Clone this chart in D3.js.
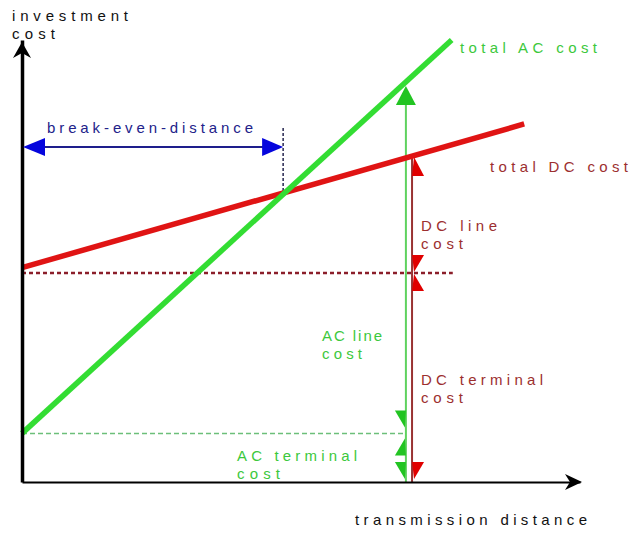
<!DOCTYPE html>
<html>
<head>
<meta charset="utf-8">
<script src="https://cdn.jsdelivr.net/npm/d3@7"></script>
<style>
  html, body { margin: 0; padding: 0; background: #ffffff; }
  svg { display: block; font-family: "Liberation Sans", Arial, sans-serif; }
</style>
</head>
<body>
<svg id="chart" width="632" height="534"></svg>
<script>
// ---- data (conceptual units: distance 0..100, cost 0..100) ----
const acDistance = [0, 77];        // total AC cost line endpoints (distance)
const acCost = [11, 100];          // total AC cost line endpoints (cost)
const dcDistance = [0, 90];        // total DC cost line endpoints (distance)
const dcCost = [48.5, 81];         // total DC cost line endpoints (cost)
const acTerminalCost = 11;         // AC terminal cost level
const dcTerminalCost = 47.3;       // DC terminal cost level
const acTerminalEnd = 68.5;        // end of AC terminal guide
const dcTerminalEnd = 77.2;        // end of DC terminal guide
const breakEvenDistance = 46.8;    // break-even distance
const breakEvenArrowCost = 75.8;   // level of break-even arrow
const acMarkerDistance = 68.8;     // AC measurement line
const dcMarkerDistance = 69.9;     // DC measurement line

const axisLabels = { y: ["investment", "cost"], x: ["transmission distance"] };
const seriesLabels = ["total AC cost", "total DC cost"];
const annotationLabels = [
  ["break-even-distance"],
  ["DC line", "cost"],
  ["AC line", "cost"],
  ["DC terminal", "cost"],
  ["AC terminal", "cost"]
];

// ---- scales ----
const x = d3.scaleLinear().domain([0, 100]).range([22, 580]);
const y = d3.scaleLinear().domain([0, 100]).range([482, 40]);

const svg = d3.select("#chart");

const colors = {
  acLine: "#33dd33", dcLine: "#e01414",
  acText: "#3cc83c", dcText: "#9c2f2f",
  acThin: "#5fd25f", dcThin: "#993333",
  acArrow: "#22c422", dcArrow: "#e00000",
  blueLine: "#1e1e8c", blueArrow: "#0505dd"
};

function lineAt(dist, cost, d) {
  const t = (d - dist[0]) / (dist[1] - dist[0]);
  return cost[0] + t * (cost[1] - cost[0]);
}

// ---- guides ----
svg.append("line")
  .attr("x1", x(0)).attr("x2", x(dcTerminalEnd))
  .attr("y1", y(dcTerminalCost)).attr("y2", y(dcTerminalCost))
  .attr("stroke", "#8b1e2a").attr("stroke-width", 2.5)
  .attr("stroke-dasharray", "4,3");

svg.append("line")
  .attr("x1", x(0)).attr("x2", x(acTerminalEnd))
  .attr("y1", y(acTerminalCost)).attr("y2", y(acTerminalCost))
  .attr("stroke", "#6cbf7a").attr("stroke-width", 1.5)
  .attr("stroke-dasharray", "5,3");

// ---- vertical measurement lines ----
const acTop = lineAt(acDistance, acCost, acMarkerDistance);
const dcTop = lineAt(dcDistance, dcCost, dcMarkerDistance);

svg.append("line")
  .attr("x1", x(acMarkerDistance)).attr("x2", x(acMarkerDistance))
  .attr("y1", y(acTop) + 8).attr("y2", y(0))
  .attr("stroke", colors.acThin).attr("stroke-width", 2);
svg.append("line")
  .attr("x1", x(dcMarkerDistance)).attr("x2", x(dcMarkerDistance))
  .attr("y1", y(dcTop)).attr("y2", y(0))
  .attr("stroke", colors.dcThin).attr("stroke-width", 2);

// ---- break-even dashed vertical ----
const beCost = lineAt(acDistance, acCost, breakEvenDistance);
svg.append("line")
  .attr("x1", x(breakEvenDistance)).attr("x2", x(breakEvenDistance))
  .attr("y1", y(breakEvenArrowCost) - 19).attr("y2", y(beCost))
  .attr("stroke", "#33335a").attr("stroke-width", 1.6)
  .attr("stroke-dasharray", "3,2");

// ---- main lines ----
const line = d3.line().x(d => x(d[0])).y(d => y(d[1]));
svg.append("path")
  .attr("d", line(dcDistance.map((d, i) => [d, dcCost[i]])))
  .attr("stroke", colors.dcLine).attr("stroke-width", 5.5).attr("fill", "none");
svg.append("path")
  .attr("d", line(acDistance.map((d, i) => [d, acCost[i]])))
  .attr("stroke", colors.acLine).attr("stroke-width", 5.5).attr("fill", "none");

// ---- axes ----
const yAxis = svg.append("g").attr("transform", `translate(${x(0)},0)`)
  .call(d3.axisLeft(y).ticks(0).tickSizeOuter(0));
yAxis.select(".domain").attr("stroke", "#000").attr("stroke-width", 3.5);
const xAxis = svg.append("g").attr("transform", `translate(0,${y(0)})`)
  .call(d3.axisBottom(x).ticks(0).tickSizeOuter(0));
xAxis.select(".domain").attr("stroke", "#000").attr("stroke-width", 2);

// axis arrowheads
const yt = y(100) + 2, xt = x(0);
svg.append("path")
  .attr("d", `M${xt},${yt} L${xt - 9},${yt + 16} L${xt},${yt + 11} L${xt + 9},${yt + 16} Z`)
  .attr("fill", "#000");
const xr = x(100) + 2, yb = y(0);
svg.append("path")
  .attr("d", `M${xr},${yb} L${xr - 17},${yb - 8} L${xr - 12},${yb} L${xr - 17},${yb + 8} Z`)
  .attr("fill", "#000");

// ---- break-even arrow ----
const by = y(breakEvenArrowCost);
svg.append("line")
  .attr("x1", x(0) + 10).attr("x2", x(breakEvenDistance) - 10)
  .attr("y1", by).attr("y2", by)
  .attr("stroke", colors.blueLine).attr("stroke-width", 2);
svg.append("path")
  .attr("d", `M${x(0) + 1},${by} L${x(0) + 23},${by - 9} L${x(0) + 23},${by + 9} Z`)
  .attr("fill", colors.blueArrow);
svg.append("path")
  .attr("d", `M${x(breakEvenDistance)},${by} L${x(breakEvenDistance) - 21},${by - 9} L${x(breakEvenDistance) - 21},${by + 9} Z`)
  .attr("fill", colors.blueArrow);

// ---- measurement arrowheads ----
const ax = x(acMarkerDistance), dx = x(dcMarkerDistance);
// full green arrowhead at the top
svg.append("path")
  .attr("d", `M${ax},${y(acTop) + 4} L${ax - 10},${y(acTop) + 23} L${ax + 10},${y(acTop) + 23} Z`)
  .attr("fill", colors.acArrow);
// half arrowheads: green on left, red on right
function halfLeft(tip, base) {
  svg.append("path")
    .attr("d", `M${ax - 1},${tip} L${ax - 11},${base} L${ax},${base} Z`)
    .attr("fill", colors.acArrow);
}
function halfRight(tip, base) {
  svg.append("path")
    .attr("d", `M${dx + 2},${tip} L${dx + 12},${base} L${dx},${base} Z`)
    .attr("fill", colors.dcArrow);
}
const yAcT = y(acTerminalCost), yDcT = y(dcTerminalCost), y0 = y(0);
halfLeft(yAcT - 6, yAcT - 23);
halfLeft(yAcT + 5, yAcT + 22);
halfLeft(y0 - 3, y0 - 20);
halfRight(y(dcTop) + 1, y(dcTop) + 20);
halfRight(yDcT - 1, yDcT - 18);
halfRight(yDcT + 1, yDcT + 18);
halfRight(y0 - 3, y0 - 20);

// ---- text ----
function label(lines, x0, baselines, widths, color) {
  lines.forEach((t, i) => {
    svg.append("text")
      .attr("x", x0).attr("y", baselines[i])
      .attr("textLength", widths[i]).attr("lengthAdjust", "spacing")
      .attr("font-size", 15).attr("fill", color)
      .text(t);
  });
}
label(axisLabels.y, 12, [21, 39], [116, 43], "#111");
label(axisLabels.x, 355, [525], [232], "#111");
label([seriesLabels[0]], 460, [53], [137], colors.acText);
label([seriesLabels[1]], 490, [172], [138], colors.dcText);
label(annotationLabels[0], 47, [133], [206], "#22228a");
label(annotationLabels[1], 421, [231, 249], [76, 42], colors.dcText);
label(annotationLabels[2], 322, [341, 359], [60, 40], colors.acText);
label(annotationLabels[3], 421, [385, 403], [122, 42], colors.dcText);
label(annotationLabels[4], 237, [461, 479], [120, 43], colors.acText);
</script>
</body>
</html>
